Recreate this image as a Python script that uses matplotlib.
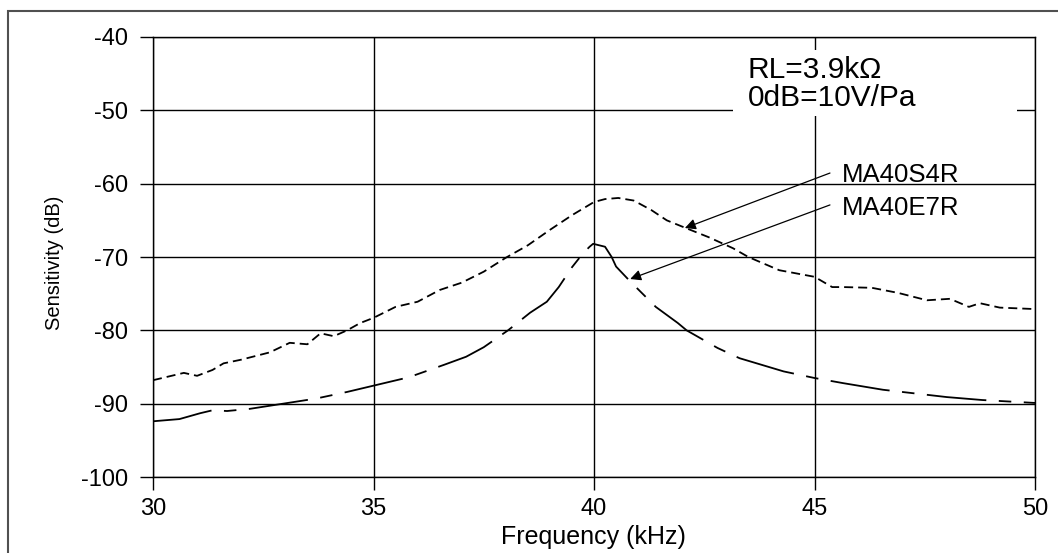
import numpy as np
import matplotlib
matplotlib.use("Agg")
import matplotlib.pyplot as plt
from matplotlib.patches import Rectangle

plt.rcParams['font.family'] = ['Liberation Sans', 'DejaVu Sans']
plt.rcParams['lines.scale_dashes'] = False
plt.rcParams['axes.unicode_minus'] = False

# Sensitivity curves (frequency in kHz, sensitivity in dB)
freq_s4r = [30.0, 30.7, 31.0, 31.35, 31.6, 32.0, 32.65, 33.1, 33.5, 33.8, 34.1, 34.4,
            34.7, 35.0, 35.5, 36.0, 36.5, 37.0, 37.5, 38.0, 38.5, 39.0, 39.5, 40.0,
            40.25, 40.55, 40.9, 41.3, 41.65, 42.06, 42.6, 43.15, 43.5, 44.2, 45.0, 45.4, 45.65,
            46.3, 46.9, 47.55, 48.07, 48.5, 48.75, 49.2, 50.0]
sens_s4r = [-86.8, -85.8, -86.2, -85.4, -84.5, -84.0, -83.0, -81.7, -81.9, -80.4, -80.8, -80.0,
            -79.0, -78.3, -76.8, -76.1, -74.5, -73.5, -72.0, -70.1, -68.4, -66.3, -64.3, -62.5,
            -62.1, -61.95, -62.3, -63.6, -65.0, -66.0, -67.3, -68.8, -70.0, -71.8, -72.7, -74.1, -74.1,
            -74.2, -74.9, -75.9, -75.7, -76.8, -76.3, -76.9, -77.1]

freq_e7r = [30.0, 30.6, 31.07, 31.35, 31.68, 32.2, 32.95, 33.7, 34.4, 35.03, 35.8, 36.6,
            37.1, 37.5, 38.05, 38.55, 38.93, 39.2, 39.5, 39.75, 39.9, 39.98, 40.25, 40.4,
            40.5, 40.8, 41.1, 41.4, 41.9, 42.1, 42.8, 43.3, 44.3, 45.0, 45.65, 46.55, 48.0,
            48.8, 50.0]
sens_e7r = [-92.4, -92.1, -91.3, -90.9, -91.0, -90.7, -90.0, -89.3, -88.4, -87.5, -86.4, -84.7,
            -83.6, -82.3, -80.0, -77.6, -76.1, -74.1, -71.4, -69.5, -68.6, -68.2, -68.6, -70.0,
            -71.3, -73.2, -75.0, -76.8, -79.0, -80.0, -82.4, -83.8, -85.6, -86.5, -87.2, -88.1, -89.1,
            -89.5, -89.9]

xticks = [30, 35, 40, 45, 50]
yticks = [-40, -50, -60, -70, -80, -90, -100]

fig = plt.figure(figsize=(10.58, 5.53), dpi=100)
ax = fig.add_axes([0.1446, 0.1374, 0.8337, 0.7957])

# outer frame around the whole figure
fig.patches.append(Rectangle((0.0071, -0.2), 1.5, 1.18, transform=fig.transFigure,
                             fill=False, edgecolor='#505050', linewidth=1.5))

ax.plot(freq_s4r, sens_s4r, color='black', lw=1.3, dashes=(6.5, 3.6), zorder=3)
ax.plot(freq_e7r, sens_e7r, color='black', lw=1.3, dashes=(43, 9, 9, 9), zorder=3)

ax.set_xlim(30, 50)
ax.set_ylim(-100, -40)
ax.set_xticks(xticks)
ax.set_yticks(yticks)
ax.grid(True, color='black', lw=1.0, zorder=1)
ax.set_axisbelow(True)
for sp in ax.spines.values():
    sp.set_linewidth(1.0)
    sp.set_color('black')
ax.tick_params(direction='out', length=9.4, width=1.0, labelsize=17, colors='black')
ax.tick_params(axis='y', pad=8.6)
ax.tick_params(axis='x', pad=5.5)

ax.set_xlabel('Frequency (kHz)', fontsize=18, va='center')
ax.xaxis.set_label_coords(0.499, -0.136)
ax.set_ylabel('Sensitivity (dB)', fontsize=14.5, va='center')
ax.yaxis.set_label_coords(-0.112, 0.486)

# white box behind the conditions note
ax.add_patch(Rectangle((43.15, -50.77), 6.44, 9.0, facecolor='white', edgecolor='none', zorder=2))
ax.text(43.49, -44.5, 'RL=3.9k\u03a9', fontsize=21.5, va='center', ha='left', zorder=4)
ax.text(43.49, -48.3, '0dB=10V/Pa', fontsize=21.5, va='center', ha='left', zorder=4)

arrow = dict(arrowstyle='-|>', color='black', lw=0.9, mutation_scale=16, shrinkA=0, shrinkB=0)
ax.annotate('', xy=(42.06, -66.05), xytext=(45.35, -58.55), arrowprops=arrow, zorder=4)
ax.annotate('', xy=(40.82, -73.0), xytext=(45.35, -62.9), arrowprops=arrow, zorder=4)
ax.text(45.62, -58.8, 'MA40S4R', fontsize=18.5, va='center', ha='left', zorder=4)
ax.text(45.62, -63.3, 'MA40E7R', fontsize=18.5, va='center', ha='left', zorder=4)

fig.savefig('out.png', dpi=100)
